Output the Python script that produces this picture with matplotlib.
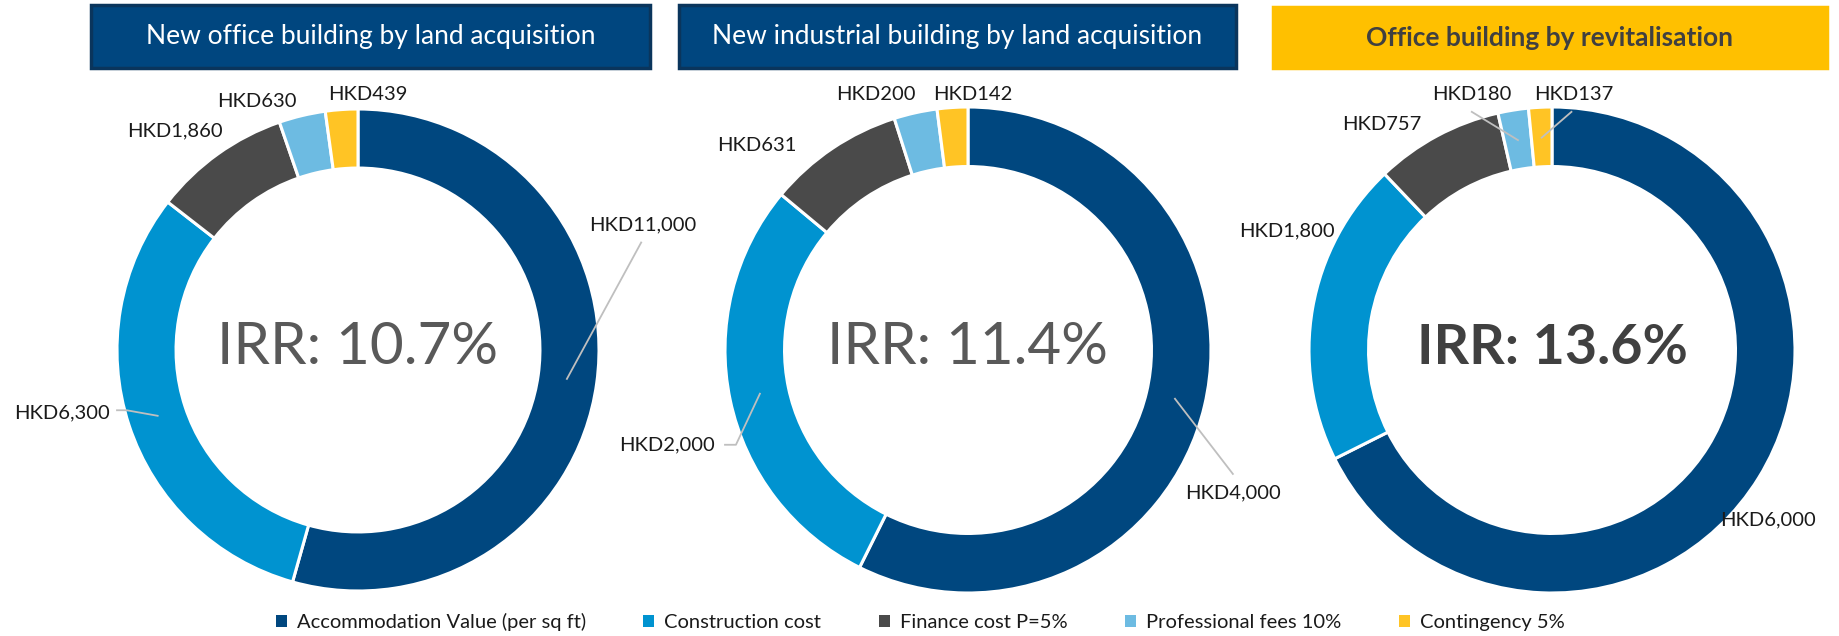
import numpy as np
import matplotlib
matplotlib.use("Agg")
from matplotlib import pyplot as plt
from matplotlib.patches import Rectangle, Patch

plt.rcParams['font.family'] = ['Lato', 'DejaVu Sans']

W, H = 1840, 636

categories = ["Accommodation Value (per sq ft)", "Construction cost",
              "Finance cost P=5%", "Professional fees 10%", "Contingency 5%"]
colors = ["#00477F", "#0093D0", "#4A4A4A", "#6DBBE2", "#FFC425"]

titles = ["New office building by land acquisition",
          "New industrial building by land acquisition",
          "Office building by revitalisation"]
irr_text = ["IRR: 10.7%", "IRR: 11.4%", "IRR: 13.6%"]

office_land = [11000, 6300, 1860, 630, 439]
industrial_land = [4000, 2000, 631, 200, 142]
office_revit = [6000, 1800, 757, 180, 137]
series = [office_land, industrial_land, office_revit]

# layout (pixels / data units of each donut)
centers = [(358, 350, 241), (968, 350, 243), (1552, 350, 243)]
boxes = [(91, 5, 650, 68), (679, 5, 1236, 68), (1273, 7, 1827, 68)]
label_pos = [
    [(1.18, 0.52), (-1.23, -0.26), (-0.76, 0.91), (-0.42, 1.03), (0.04, 1.06)],
    [(1.09, -0.59), (-1.24, -0.39), (-0.87, 0.84), (-0.38, 1.05), (0.02, 1.05)],
    [(0.89, -0.70), (-1.09, 0.49), (-0.70, 0.93), (-0.33, 1.05), (0.09, 1.05)],
]
# leader lines: (chart, wedge) -> points after the wedge anchor
leaders = {
    (0, 0): [(1.175, 0.446)],
    (0, 1): [(-0.96, -0.25), (-1.0, -0.25)],
    (1, 0): [(1.09, -0.51)],
    (1, 1): [(-0.955, -0.39), (-1.0, -0.39)],
    (2, 3): [(-0.33, 0.98)],
    (2, 4): [(0.08, 0.98)],
}

fig = plt.figure(figsize=(W / 100, H / 100), dpi=100)

for i, vals in enumerate(series):
    cx, cy, r = centers[i]
    ax = fig.add_axes([(cx - r) / W, (H - cy - r) / H, 2 * r / W, 2 * r / H])
    wedges, _ = ax.pie(vals, colors=colors, startangle=90, counterclock=False,
                       radius=1, wedgeprops=dict(width=0.245, edgecolor="white", linewidth=2.2))
    ax.set_xlim(-1, 1)
    ax.set_ylim(-1, 1)
    ax.axis("off")

    for j, w in enumerate(wedges):
        lx, ly = label_pos[i][j]
        ax.text(lx, ly, f"HKD{vals[j]:,}", ha="center", va="center",
                fontsize=14.5, color="#1A1A1A", clip_on=False)
        if (i, j) in leaders:
            mid = np.deg2rad((w.theta1 + w.theta2) / 2)
            pts = [(0.875 * np.cos(mid), 0.875 * np.sin(mid))] + leaders[(i, j)]
            xs, ys = zip(*pts)
            ax.plot(xs, ys, color="#BFBFBF", lw=1.3, clip_on=False, zorder=5)

    if i == 2:
        ax.text(0, 0.01, irr_text[i], ha="center", va="center", fontsize=40,
                fontweight="bold", color="#404040")
    else:
        ax.text(0, 0.01, irr_text[i], ha="center", va="center", fontsize=42,
                fontweight="normal", color="#595959")

# title boxes
for i, (x0, y0, x1, y1) in enumerate(boxes):
    if i == 2:
        fc, ec, tc, fw = "#FFC000", "#FFC000", "#404040", "bold"
    else:
        fc, ec, tc, fw = "#00467F", "#0A355C", "white", "normal"
    fig.patches.append(Rectangle((x0 / W, 1 - y1 / H), (x1 - x0) / W, (y1 - y0) / H,
                                 transform=fig.transFigure, facecolor=fc, edgecolor=ec,
                                 linewidth=2.5, zorder=0))
    fig.text((x0 + x1) / 2 / W, 1 - (y0 + y1) / 2 / H, titles[i], ha="center", va="center",
             fontsize=19, color=tc, fontweight=fw)

handles = [Patch(facecolor=c, edgecolor="none") for c in colors]
fig.legend(handles, categories, loc="center", bbox_to_anchor=(0.5, 1 - 622 / H), ncol=5,
           frameon=False, fontsize=14.5, handlelength=0.55, handleheight=0.55,
           handletextpad=0.5, columnspacing=2.85, labelcolor="#1A1A1A")

fig.savefig("out.png", dpi=100)
